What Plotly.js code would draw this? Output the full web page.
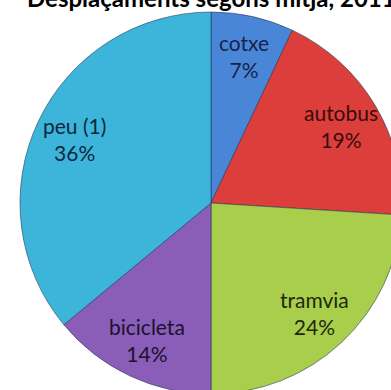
<!DOCTYPE html>
<html>
<head>
<meta charset="utf-8">
<script src="https://cdn.plot.ly/plotly-3.0.1.min.js"></script>
<style>
html,body{margin:0;padding:0;overflow:hidden;background:#fff;width:391px;height:390px;}
#chart{width:420px;height:420px;}
</style>
</head>
<body>
<div id="chart"></div>
<script>
const categories = ["cotxe", "autobus", "tramvia", "bicicleta", "peu (1)"];
const values = [7, 19, 24, 14, 36];
const sliceColors = ["#4a86d8", "#dc3f3b", "#a8ce4c", "#8a5db8", "#3db4da"];
const textColors = ["#18224a", "#3a0b0b", "#1d280a", "#1c112e", "#0d283d"];
const titleText = "Desplaçaments segons mitjà, 2011";

const W = 420, H = 420;
const cx = 211, cy = 203, r = 191;
const labelFrac = 0.79;

const data = [{
  type: "pie",
  labels: categories,
  values: values,
  sort: false,
  direction: "clockwise",
  rotation: 0,
  textinfo: "none",
  hoverinfo: "none",
  marker: {colors: sliceColors, line: {color: "rgba(30,50,80,0.55)", width: 1}},
  domain: {x: [(cx - r) / W, (cx + r) / W], y: [(H - cy - r) / H, (H - cy + r) / H]}
}];

const total = values.reduce((a, b) => a + b, 0);
const annotations = [];
let cum = 0;
values.forEach((v, i) => {
  const mid = (cum + v / 2) / total * 2 * Math.PI;
  cum += v;
  const px = cx + Math.sin(mid) * r * labelFrac;
  const py = cy - Math.cos(mid) * r * labelFrac;
  annotations.push({
    text: categories[i] + "<br>" + Math.round(v / total * 100) + "%",
    xref: "paper", yref: "paper",
    x: px / W, y: (H - py) / H,
    xanchor: "center", yanchor: "middle",
    showarrow: false,
    font: {family: "Lato, 'Open Sans', sans-serif", size: 21, color: textColors[i]}
  });
});
annotations.push({
  text: "<b>" + titleText + "</b>",
  xref: "paper", yref: "paper",
  x: 211 / W, y: (H + 3) / H,
  xanchor: "center", yanchor: "middle",
  showarrow: false,
  font: {family: "Lato, sans-serif", size: 24, color: "#000"}
});

const layout = {
  width: W, height: H,
  margin: {l: 0, r: 0, t: 0, b: 0},
  showlegend: false,
  paper_bgcolor: "#ffffff",
  annotations: annotations
};

Plotly.newPlot("chart", data, layout, {staticPlot: true});
</script>
</body>
</html>
